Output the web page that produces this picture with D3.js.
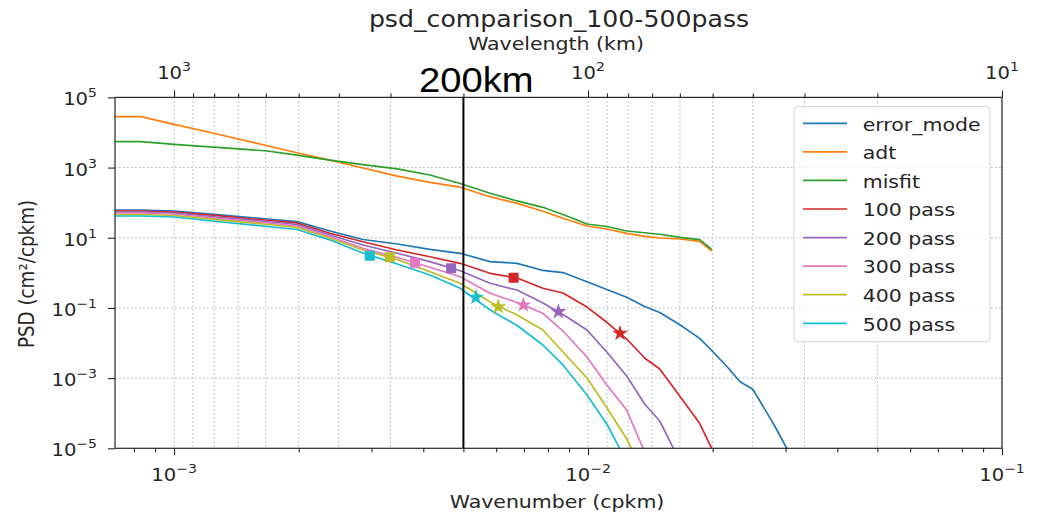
<!DOCTYPE html>
<html>
<head>
<meta charset="utf-8">
<script src="https://cdn.jsdelivr.net/npm/d3@7"></script>
<style>
body { margin: 0; background: #fff; }
text { font-family: "DejaVu Sans", sans-serif; fill: #262626; }
</style>
</head>
<body>
<div id="chart"></div>
<script>
var svgWidth = 1039;
var svgHeight = 515;

// wavenumber grid (cpkm) shared by all curves
var wavenumber = [7.2e-4, 8.32e-4, 1.0e-3, 1.27e-3, 1.68e-3, 1.98e-3, 2.38e-3, 2.86e-3, 3.46e-3, 4.15e-3,
	4.91e-3, 5.80e-3, 6.74e-3, 7.78e-3, 8.70e-3, 9.94e-3, 1.11e-2, 1.24e-2, 1.37e-2, 1.49e-2,
	1.67e-2, 1.86e-2, 1.99e-2, 2.17e-2, 2.33e-2, 2.50e-2, 2.71e-2, 2.86e-2, 3.02e-2];

var errorMode = [61.8, 61.8, 57.9, 45.4, 34.3, 28.7, 15.6, 8.91, 6.64, 4.69, 3.61, 2.08, 1.87, 1.17, 1.02,
	0.560, 0.335, 0.201, 0.110, 0.0741, 0.0327, 0.0136, 6.12e-3, 2.07e-3, 7.91e-4, 4.80e-4, 9.93e-5, 3.32e-5, 1.0e-5];
var adt = [2.82e4, 2.82e4, 1.71e4, 9.06e3, 4.20e3, 2.64e3, 1.63e3, 973, 571, 380, 276, 148, 95.3, 56.8, 35.9,
	21.6, 17.8, 13.3, 10.9, 9.84, 9.22, 7.93, 4.20];
var misfit = [5.47e3, 5.47e3, 4.61e3, 3.78e3, 2.97e3, 2.27e3, 1.63e3, 1.21e3, 923, 615, 352, 185, 112, 73.8, 46.0,
	24.7, 20.9, 15.6, 13.9, 12.6, 10.3, 8.81, 4.69];
var pass100 = [57.9, 57.9, 54.2, 42.6, 31.5, 26.4, 13.4, 7.72, 4.48, 2.88, 1.87, 0.970, 0.713, 0.363, 0.267,
	0.106, 0.039, 0.0130, 3.74e-3, 1.82e-3, 2.95e-4, 5.15e-5, 1.0e-5];
var pass200 = [54.2, 54.2, 50.8, 39.1, 29.1, 23.9, 12.0, 6.22, 3.61, 2.08, 1.15, 0.504, 0.324, 0.138, 0.0650,
	0.0235, 5.55e-3, 1.15e-3, 1.83e-4, 6.00e-5, 4.07e-6];
var pass300 = [50.8, 50.8, 47.5, 35.9, 26.4, 21.6, 10.7, 5.01, 2.74, 1.44, 0.776, 0.261, 0.143, 0.0703, 0.0220,
	4.00e-3, 6.37e-4, 1.23e-4, 7.83e-6, 5.7e-7];
var pass400 = [46.0, 46.0, 43.1, 32.7, 23.9, 19.6, 9.66, 4.48, 2.40, 1.08, 0.504, 0.148, 0.0629, 0.0235, 5.55e-3,
	1.01e-3, 1.46e-4, 1.84e-5, 1.73e-6];
var pass500 = [41.7, 41.7, 39.1, 29.1, 20.9, 17.2, 8.63, 3.68, 1.79, 0.869, 0.363, 0.0873, 0.0316, 8.79e-3, 2.37e-3,
	3.30e-4, 4.93e-5, 4.07e-6];

var seriesNames = ["error_mode", "adt", "misfit", "100 pass", "200 pass", "300 pass", "400 pass", "500 pass"];
var seriesValues = [errorMode, adt, misfit, pass100, pass200, pass300, pass400, pass500];
var seriesColors = ["#1f77b4", "#ff7f0e", "#2ca02c", "#d62728", "#9467bd", "#e377c2", "#bcbd22", "#17becf"];

// markers on the pass curves (100..500)
var squareK = [6.61e-3, 4.67e-3, 3.82e-3, 3.32e-3, 2.97e-3];
var squarePsd = [0.727, 1.35, 1.95, 2.77, 3.08];
var starK = [1.195e-2, 8.48e-3, 6.98e-3, 6.07e-3, 5.36e-3];
var starPsd = [0.0189, 0.0782, 0.121, 0.108, 0.201];

var xMajor = [1e-3, 1e-2, 1e-1];
var xLabels = ["\u22123", "\u22122", "\u22121"];
var yMajor = [1e-5, 1e-3, 1e-1, 1e1, 1e3, 1e5];
var yLabels = ["\u22125", "\u22123", "\u22121", "1", "3", "5"];
var wlMajor = [1000, 100, 10];
var wlLabels = ["3", "2", "1"];
var cutWavelength = 200;

var margin = { top: 97.4, bottom: 66.7, left: 115, right: 37 };
var width = svgWidth - margin.left - margin.right;
var height = svgHeight - margin.top - margin.bottom;
var sx = 1.12;

var svg = d3.select("#chart")
	.append("svg")
	.attr("width", svgWidth)
	.attr("height", svgHeight);

var chartGroup = svg.append("g")
	.attr("transform", `translate(${margin.left}, ${margin.top})`);

var xScale = d3.scaleLog().domain([7.2e-4, 0.1]).range([0, width]);
var yScale = d3.scaleLog().domain([1e-5, 1e5]).range([height, 0]);
var wlScale = d3.scaleLog().domain([1 / 7.2e-4, 10]).range([0, width]);

var xMinor = [];
var wlMinor = [];
[1e-4, 1e-3, 1e-2].forEach(function(d) {
	for (var i = 2; i <= 9; i++) {
		if (d * i >= 7.2e-4 && d * i <= 0.1) xMinor.push(d * i);
	}
});
[10, 100, 1000].forEach(function(d) {
	for (var i = 2; i <= 9; i++) {
		if (d * i <= 1 / 7.2e-4) wlMinor.push(d * i);
	}
});

// grid: horizontal at labelled decades, vertical at wavelength ticks
chartGroup.append("g")
	.selectAll("line")
	.data(yMajor.slice(1, -1))
	.enter()
	.append("line")
	.attr("x1", 0).attr("x2", width)
	.attr("y1", d => yScale(d)).attr("y2", d => yScale(d))
	.attr("stroke", "#b0b0b0").attr("stroke-width", 1).attr("stroke-dasharray", "1.5,2.5");

chartGroup.append("g")
	.selectAll("line")
	.data(wlMajor.concat(wlMinor))
	.enter()
	.append("line")
	.attr("x1", d => wlScale(d)).attr("x2", d => wlScale(d))
	.attr("y1", 0).attr("y2", height)
	.attr("stroke", "#b0b0b0").attr("stroke-width", 1).attr("stroke-dasharray", "1.5,2.5");

svg.append("clipPath").attr("id", "clip")
	.append("rect").attr("width", width).attr("height", height);

var plot = chartGroup.append("g").attr("clip-path", "url(#clip)");

var line = d3.line()
	.defined(d => d[1] != null)
	.x(d => xScale(d[0]))
	.y(d => yScale(d[1]));

seriesValues.forEach(function(vals, i) {
	plot.append("path")
		.datum(vals.map((v, j) => [wavenumber[j], v]))
		.attr("d", line)
		.attr("fill", "none")
		.attr("stroke", seriesColors[i])
		.attr("stroke-width", 1.7)
		.attr("stroke-linejoin", "round");
});

var passColors = seriesColors.slice(3);

plot.selectAll(".sq")
	.data(squareK)
	.enter()
	.append("path")
	.attr("d", d3.symbol(d3.symbolSquare, 100))
	.attr("transform", (d, i) => `translate(${xScale(d)}, ${yScale(squarePsd[i])})`)
	.attr("fill", (d, i) => passColors[i]);

plot.selectAll(".st")
	.data(starK)
	.enter()
	.append("path")
	.attr("d", d3.symbol(d3.symbolStar, 80))
	.attr("transform", (d, i) => `translate(${xScale(d)}, ${yScale(starPsd[i])})`)
	.attr("fill", (d, i) => passColors[i]);

// 200 km marker line
chartGroup.append("line")
	.attr("x1", wlScale(cutWavelength)).attr("x2", wlScale(cutWavelength))
	.attr("y1", 0).attr("y2", height)
	.attr("stroke", "#000").attr("stroke-width", 2);

// axes
function styleAxis(g) {
	g.select(".domain").remove();
	g.selectAll("line").attr("stroke", "#262626").attr("stroke-width", 1.1);
}

chartGroup.append("g")
	.attr("transform", `translate(0, ${height})`)
	.call(d3.axisBottom(xScale).tickValues(xMinor).tickSize(4).tickFormat(""))
	.call(styleAxis);
chartGroup.append("g")
	.attr("transform", `translate(0, ${height})`)
	.call(d3.axisBottom(xScale).tickValues(xMajor).tickSize(7).tickFormat(""))
	.call(styleAxis);
chartGroup.append("g")
	.call(d3.axisTop(wlScale).tickValues(wlMinor).tickSize(4).tickFormat(""))
	.call(styleAxis);
chartGroup.append("g")
	.call(d3.axisTop(wlScale).tickValues(wlMajor).tickSize(7).tickFormat(""))
	.call(styleAxis);
chartGroup.append("g")
	.call(d3.axisLeft(yScale).tickValues(yMajor).tickSize(7).tickFormat(""))
	.call(styleAxis);

chartGroup.append("rect")
	.attr("width", width).attr("height", height)
	.attr("fill", "none").attr("stroke", "#262626").attr("stroke-width", 1.2);

function powerLabel(g, x, y, exp, anchor) {
	var t = g.append("text")
		.attr("transform", `translate(${x}, ${y}) scale(${sx}, 1)`)
		.attr("text-anchor", anchor)
		.style("font-size", "17.5px");
	t.append("tspan").text("10");
	t.append("tspan").attr("dy", -8).style("font-size", "12.5px").text(exp);
}

xMajor.forEach((d, i) => powerLabel(chartGroup, xScale(d), height + 33, xLabels[i], "middle"));
wlMajor.forEach((d, i) => powerLabel(chartGroup, wlScale(d), -18.5, wlLabels[i], "middle"));
yMajor.forEach((d, i) => powerLabel(chartGroup, -18, yScale(d) + 8, yLabels[i], "end"));

// titles
svg.append("text")
	.attr("transform", `translate(559, 26.5) scale(${sx}, 1)`)
	.attr("text-anchor", "middle")
	.style("font-size", "22.5px")
	.text("psd_comparison_100-500pass");

svg.append("text")
	.attr("transform", `translate(556, 50) scale(${sx}, 1)`)
	.attr("text-anchor", "middle")
	.style("font-size", "18.3px")
	.text("Wavelength (km)");

svg.append("text")
	.attr("transform", `translate(557, 508) scale(${sx}, 1)`)
	.attr("text-anchor", "middle")
	.style("font-size", "18.3px")
	.text("Wavenumber (cpkm)");

svg.append("text")
	.attr("transform", `translate(34, 274) scale(${sx}, 1) rotate(-90)`)
	.attr("text-anchor", "middle")
	.style("font-size", "18.3px")
	.text("PSD (cm\u00b2/cpkm)");

svg.append("text")
	.attr("transform", `translate(419, 91.7) scale(1.09, 1)`)
	.style("font-family", "'Liberation Sans', Arial, sans-serif")
	.style("font-size", "35px")
	.style("fill", "#000")
	.text(cutWavelength + "km");

// legend
var legend = svg.append("g").attr("transform", "translate(794, 106.7)");

legend.append("rect")
	.attr("width", 196).attr("height", 235)
	.attr("rx", 4)
	.attr("fill", "#fff").attr("fill-opacity", 0.8)
	.attr("stroke", "#d5d5d5").attr("stroke-width", 1);

var rows = legend.selectAll(".row")
	.data(seriesNames)
	.enter()
	.append("g")
	.attr("transform", (d, i) => `translate(0, ${16.6 + i * 28.57})`);

rows.append("line")
	.attr("x1", 9).attr("x2", 53)
	.attr("stroke", (d, i) => seriesColors[i])
	.attr("stroke-width", 1.7);

rows.append("text")
	.attr("transform", `translate(68.7, 7.3) scale(${sx}, 1)`)
	.style("font-size", "18.3px")
	.text(d => d);
</script>
</body>
</html>
